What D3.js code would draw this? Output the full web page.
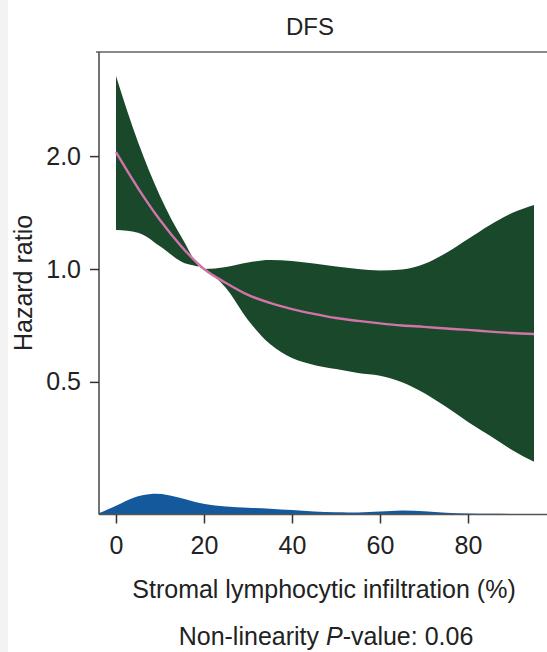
<!DOCTYPE html>
<html>
<head>
<meta charset="utf-8">
<script src="https://cdn.jsdelivr.net/npm/d3@7"></script>
<style>
  html, body { margin: 0; padding: 0; background: #fff; }
  svg { display: block; font-family: "Liberation Sans", Arial, Helvetica, sans-serif; }
</style>
</head>
<body>
<svg id="chart" width="547" height="652"></svg>
<script>
// Spline fit of hazard ratio vs stromal lymphocytic infiltration (reference at 20%)
const infiltration = [0, 5, 10, 15, 20, 25, 30, 35, 40, 45, 50, 55, 60, 65, 70, 75, 80, 85, 90, 95];
const hazardRatio  = [2.05, 1.644, 1.351, 1.144, 1.00, 0.918, 0.853, 0.812, 0.782, 0.759, 0.740, 0.727, 0.716, 0.707, 0.701, 0.694, 0.688, 0.681, 0.675, 0.671];
const upperCI      = [3.27, 2.18, 1.565, 1.209, 1.00, 1.012, 1.041, 1.057, 1.050, 1.034, 1.015, 1.000, 0.991, 0.997, 1.031, 1.103, 1.202, 1.310, 1.410, 1.481];
const lowerCI      = [1.27, 1.25, 1.15, 1.044, 1.00, 0.890, 0.731, 0.631, 0.579, 0.555, 0.541, 0.528, 0.519, 0.499, 0.467, 0.429, 0.391, 0.359, 0.329, 0.306];

// Distribution of the infiltration values (relative density)
const densityX = [-4, 0, 4, 8, 12, 16, 20, 25, 30, 35, 40, 45, 50, 55, 60, 65, 70, 75, 80, 85, 90, 95, 98];
const densityY = [0.03, 0.38, 0.82, 1.0, 0.92, 0.70, 0.45, 0.35, 0.30, 0.26, 0.19, 0.12, 0.07, 0.07, 0.11, 0.19, 0.13, 0.05, 0.02, 0.005, 0, 0, 0];

const xTicks = [0, 20, 40, 60, 80];
const yTicks = [0.5, 1.0, 2.0];
const yTickLabels = ["0.5", "1.0", "2.0"];

const title = "DFS";
const xTitle = "Stromal lymphocytic infiltration (%)";
const yTitle = "Hazard ratio";

const svg = d3.select("#chart");
const W = 547, H = 652;
const plotL = 99, plotR = 547, plotT = 52, plotB = 514.5;
const fontSize = 25;

// faint strip along the left edge
svg.append("rect").attr("x", 0).attr("y", 0).attr("width", 8).attr("height", H).attr("fill", "#f3f3f3");

const x = d3.scaleLinear().domain([-3.86, 97.95]).range([plotL, plotR]);
const y = d3.scaleLog().domain([0.2215, 3.79]).range([plotB, plotT]);
const yd = d3.scaleLinear().domain([0, 1]).range([514, 493]);

svg.append("clipPath").attr("id", "plotclip")
  .append("rect").attr("x", plotL).attr("y", plotT).attr("width", plotR - plotL).attr("height", plotB - plotT);

const g = svg.append("g").attr("clip-path", "url(#plotclip)");

// confidence band
const rows = infiltration.map((v, i) => ({ v, hr: hazardRatio[i], lo: lowerCI[i], hi: upperCI[i] }));
g.append("path")
  .datum(rows)
  .attr("fill", "#1a482b")
  .attr("d", d3.area().x(d => x(d.v)).y0(d => y(d.lo)).y1(d => y(d.hi)).curve(d3.curveMonotoneX));

// fitted curve
g.append("path")
  .datum(rows)
  .attr("fill", "none")
  .attr("stroke", "#d273aa")
  .attr("stroke-width", 2.4)
  .attr("d", d3.line().x(d => x(d.v)).y(d => y(d.hr)).curve(d3.curveMonotoneX));

// density of observations
const dens = densityX.map((v, i) => ({ v, d: densityY[i] }));
g.append("path")
  .datum(dens)
  .attr("fill", "#14599b")
  .attr("d", d3.area().x(d => x(d.v)).y0(yd(0)).y1(d => yd(d.d)).curve(d3.curveBasis));

// frame top line
svg.append("line").attr("x1", plotL - 3).attr("x2", plotR).attr("y1", plotT).attr("y2", plotT)
  .attr("stroke", "#8a8a8a").attr("stroke-width", 2);

// x axis
const xAxis = svg.append("g").attr("transform", `translate(0,${plotB})`)
  .call(d3.axisBottom(x).tickValues(xTicks).tickFormat(d3.format("d")).tickSize(9).tickPadding(8));
xAxis.select(".domain").attr("stroke", "#555").attr("stroke-width", 1.5).attr("d", `M${plotL},0H${plotR}`);
xAxis.selectAll(".tick line").attr("stroke", "#333").attr("stroke-width", 1.5);
xAxis.selectAll(".tick text").attr("fill", "#222").attr("font-size", fontSize).attr("dy", "0.9em");

// y axis
const yAxis = svg.append("g").attr("transform", `translate(${plotL},0)`)
  .call(d3.axisLeft(y).tickValues(yTicks).tickFormat((d, i) => yTickLabels[i]).tickSize(9).tickPadding(9));
yAxis.select(".domain").attr("stroke", "#444").attr("stroke-width", 1.5).attr("d", `M0,${plotT}V${plotB}`);
yAxis.selectAll(".tick line").attr("stroke", "#333").attr("stroke-width", 1.5);
yAxis.selectAll(".tick text").attr("fill", "#222").attr("font-size", fontSize);

// titles
svg.append("text").attr("x", 310).attr("y", 35).attr("text-anchor", "middle")
  .attr("font-size", 24).attr("fill", "#222").text(title);

svg.append("text").attr("x", 324).attr("y", 598).attr("text-anchor", "middle")
  .attr("font-size", fontSize).attr("fill", "#222").text(xTitle);

svg.append("text").attr("transform", "translate(32,283) rotate(-90)").attr("text-anchor", "middle")
  .attr("font-size", fontSize).attr("fill", "#222").text(yTitle);

const pv = svg.append("text").attr("x", 326).attr("y", 645).attr("text-anchor", "middle")
  .attr("font-size", fontSize).attr("fill", "#222");
pv.append("tspan").text("Non-linearity ");
pv.append("tspan").attr("font-style", "italic").text("P");
pv.append("tspan").text("-value: 0.06");
</script>
</body>
</html>
